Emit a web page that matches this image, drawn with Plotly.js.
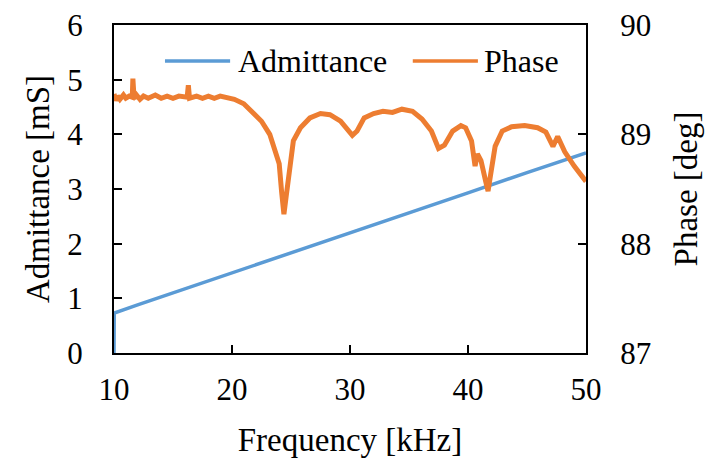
<!DOCTYPE html>
<html>
<head>
<meta charset="utf-8">
<script src="https://cdn.plot.ly/plotly-3.0.1.min.js"></script>
<style>
  html, body { margin: 0; padding: 0; background: #fff; }
  #chart { width: 707px; height: 465px; }
</style>
</head>
<body>
<div id="chart"></div>
<script>
// ---- Data ----
const admFreq = [10, 10.02, 12, 15, 20, 24.2, 24.6, 30, 35, 40, 45, 50];
const admittance = [0, 0.73, 0.88, 1.10, 1.46, 1.77, 1.79, 2.19, 2.55, 2.93, 3.30, 3.66];

const phaseFreq = [10.0, 10.15, 10.3, 10.5, 10.8, 11.0, 11.3, 11.55, 11.6, 11.7, 11.9, 12.2, 12.5, 12.9, 13.5, 14.0, 14.5, 15.0, 15.5, 16.2, 16.3, 16.4, 17.0, 17.5, 18.0, 18.5, 19.0, 19.5,
  20.2, 21.0, 21.7, 22.5, 23.2, 23.6, 24.0, 24.2, 24.4, 24.6, 24.8, 25.2, 25.8, 26.6, 27.5, 28.3, 29.2, 29.9, 30.2, 30.6,
  31.2, 32.0, 32.8, 33.6, 34.4, 35.3, 36.1, 36.9, 37.5, 38.0, 38.7, 39.4, 39.8, 40.3, 40.6, 40.8, 41.1, 41.5, 41.7, 41.9,
  42.3, 42.9, 43.7, 44.8, 45.9, 46.6, 47.2, 47.6, 48.2, 49.0, 49.6, 50.0];
const phase = [89.37, 89.31, 89.35, 89.32, 89.36, 89.33, 89.35, 89.34, 89.51, 89.33, 89.36, 89.32, 89.35, 89.33, 89.36, 89.33, 89.35, 89.33, 89.35, 89.34, 89.45, 89.33, 89.35, 89.33, 89.35, 89.33, 89.35, 89.34,
  89.32, 89.28, 89.21, 89.12, 89.00, 88.87, 88.73, 88.48, 88.27, 88.44, 88.62, 88.94, 89.06, 89.15, 89.19, 89.18, 89.12, 89.03, 88.99, 89.03,
  89.15, 89.19, 89.21, 89.20, 89.23, 89.21, 89.14, 89.03, 88.87, 88.90, 89.03, 89.08, 89.06, 88.94, 88.71, 88.82, 88.76, 88.57, 88.48, 88.62,
  88.89, 89.03, 89.07, 89.08, 89.06, 89.02, 88.89, 88.98, 88.84, 88.71, 88.62, 88.57];

const seriesNames = ['Admittance', 'Phase'];
const seriesColors = ['#5B9BD5', '#ED7D31'];
const xTitle = 'Frequency [kHz]';
const yTitle = 'Admittance [mS]';
const y2Title = 'Phase [deg]';

const FONT = '"Liberation Serif", "Times New Roman", Tinos, "DejaVu Serif", "Noto Serif", serif';

const traces = [
  { x: admFreq, y: admittance, name: seriesNames[0], type: 'scatter', mode: 'lines',
    line: { color: seriesColors[0], width: 3.5 }, yaxis: 'y', showlegend: false },
  { x: phaseFreq, y: phase, name: seriesNames[1], type: 'scatter', mode: 'lines',
    line: { color: seriesColors[1], width: 5 }, yaxis: 'y2', showlegend: false }
];

const axisCommon = {
  showgrid: false, zeroline: false, showline: true, linecolor: '#000', linewidth: 2,
  ticks: 'inside', ticklen: 8, tickwidth: 2, tickcolor: '#000',
  tickfont: { family: FONT, size: 31, color: '#000' }
};

// custom legend (line samples + labels) in paper coordinates
const legY = 0.89;
const legendItems = [
  { x0: 0.108, x1: 0.246, tx: 0.259 },
  { x0: 0.633, x1: 0.771, tx: 0.779 }
];
const shapes = legendItems.map((it, i) => ({
  type: 'line', xref: 'paper', yref: 'paper', x0: it.x0, x1: it.x1, y0: legY, y1: legY,
  line: { color: seriesColors[i], width: 3.5 }
}));
const annotations = legendItems.map((it, i) => ({
  xref: 'paper', yref: 'paper', x: it.tx, y: legY, xanchor: 'left', yanchor: 'middle',
  text: seriesNames[i], showarrow: false, font: { family: FONT, size: 32, color: '#000' }
}));

const layout = {
  width: 707, height: 465,
  margin: { l: 114, r: 121, t: 25, b: 112 },
  paper_bgcolor: '#fff', plot_bgcolor: '#fff',
  font: { family: FONT, color: '#000' },
  showlegend: false,
  xaxis: Object.assign({}, axisCommon, {
    range: [10, 50], dtick: 10, tick0: 10, mirror: true,
    ticklabelstandoff: 8,
    title: { text: xTitle, font: { family: FONT, size: 33, color: '#000' }, standoff: 22 }
  }),
  yaxis: Object.assign({}, axisCommon, {
    range: [0, 6], dtick: 1, tick0: 0,
    ticklabelstandoff: 23,
    title: { text: yTitle, font: { family: FONT, size: 33, color: '#000' }, standoff: 8 }
  }),
  yaxis2: Object.assign({}, axisCommon, {
    range: [87, 90], dtick: 1, tick0: 87, overlaying: 'y', side: 'right',
    ticklabelstandoff: 26,
    title: { text: y2Title, font: { family: FONT, size: 33, color: '#000' }, standoff: 24 }
  }),
  shapes: shapes,
  annotations: annotations
};

Plotly.newPlot('chart', traces, layout, { displayModeBar: false, staticPlot: true });
</script>
</body>
</html>
